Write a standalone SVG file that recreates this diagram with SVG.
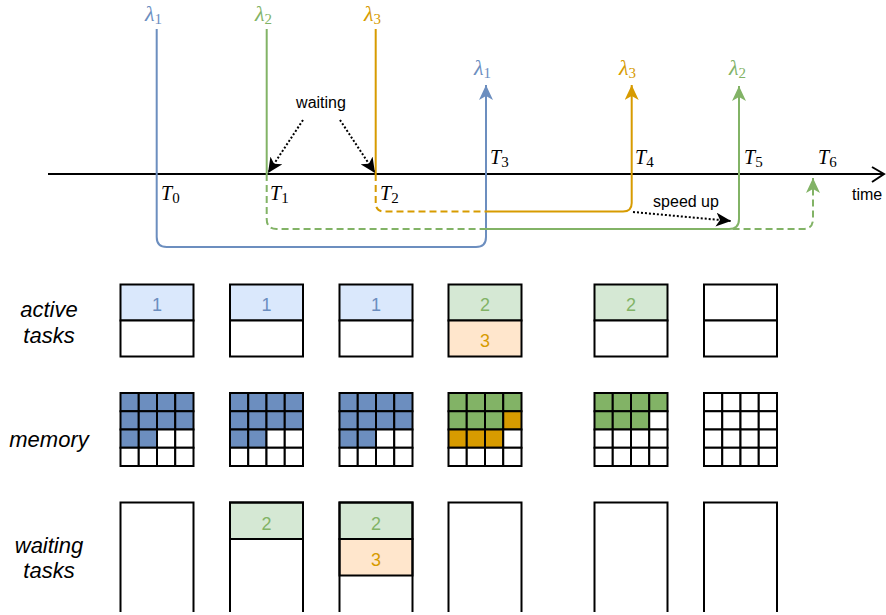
<svg xmlns="http://www.w3.org/2000/svg" width="886" height="615" viewBox="0 0 886 615">
<style>
.lbl{font-family:"Liberation Sans",Arial,sans-serif;font-size:16px;fill:#000}
.side{font-family:"Liberation Sans",Arial,sans-serif;font-size:22px;font-style:italic;fill:#000;text-anchor:middle}
.num{font-family:"Liberation Sans",Arial,sans-serif;font-size:18px;text-anchor:middle}
.math{font-family:"Liberation Serif","Times New Roman",serif;font-size:20px;font-style:italic}
.lam{font-size:22px}
.sub{font-style:normal;font-size:15px}
.box{stroke:#000;stroke-width:2}
.cell{stroke:#000;stroke-width:2}
.ln{fill:none;stroke-width:2}
.dash{stroke-dasharray:7 4}
.dot{fill:none;stroke:#000;stroke-width:2;stroke-dasharray:2 2}
</style>
<defs>
<marker id="aB" markerUnits="userSpaceOnUse" viewBox="0 0 15 14" markerWidth="15" markerHeight="14" refX="15" refY="7" orient="auto"><path d="M0,0 L15,7 L0,14 L4,7 Z" fill="#6c8ebf"/></marker>
<marker id="aG" markerUnits="userSpaceOnUse" viewBox="0 0 15 14" markerWidth="15" markerHeight="14" refX="15" refY="7" orient="auto"><path d="M0,0 L15,7 L0,14 L4,7 Z" fill="#82b366"/></marker>
<marker id="aO" markerUnits="userSpaceOnUse" viewBox="0 0 15 14" markerWidth="15" markerHeight="14" refX="15" refY="7" orient="auto"><path d="M0,0 L15,7 L0,14 L4,7 Z" fill="#d79b00"/></marker>
<marker id="aK" markerUnits="userSpaceOnUse" viewBox="0 0 15 14" markerWidth="15" markerHeight="14" refX="15" refY="7" orient="auto"><path d="M0,0 L15,7 L0,14 L4,7 Z" fill="#000"/></marker>
</defs>
<rect width="886" height="615" fill="#fff"/>

<g id="axis">
<line x1="48" y1="174" x2="884" y2="174" stroke="#000" stroke-width="2"/>
<polyline points="872,167 884,174 872,182" fill="none" stroke="#000" stroke-width="2"/>
<text class="lbl" x="852" y="200">time</text>
</g>

<g id="connectors">
<path class="ln" stroke="#6c8ebf" d="M156.7,29 V237 Q156.7,247 166.7,247 H476 Q486,247 486,237 V85" marker-end="url(#aB)"/>
<path class="ln" stroke="#82b366" d="M266.7,29 V174"/>
<path class="ln dash" stroke="#82b366" d="M266.7,174 V219 Q266.7,229 276.7,229 H803 Q813,229 813,219 V178" marker-end="url(#aG)"/>
<path class="ln" stroke="#82b366" d="M486,229 H729 Q739,229 739,219 V86" marker-end="url(#aG)"/>
<path class="ln" stroke="#d79b00" d="M375.7,29 V174"/>
<path class="ln dash" stroke="#d79b00" d="M375.7,174 V203 Q375.7,211.5 384.2,211.5 H486"/>
<path class="ln" stroke="#d79b00" d="M486,211.5 H623 Q631.7,211.5 631.7,203 V85" marker-end="url(#aO)"/>
<path class="dot" d="M303,120 L268,173" marker-end="url(#aK)"/>
<path class="dot" d="M340,120 L375,173" marker-end="url(#aK)"/>
<path class="dot" d="M633,212 L731,221" marker-end="url(#aK)"/>
</g>

<g id="annotations">
<text class="lbl" x="321" y="108" text-anchor="middle">waiting</text>
<text class="lbl" x="686" y="207" text-anchor="middle">speed up</text>
</g>

<g id="lambdas">
<text class="math lam" x="145" y="21" fill="#6c8ebf">λ<tspan class="sub" dy="3">1</tspan></text>
<text class="math lam" x="255" y="21" fill="#82b366">λ<tspan class="sub" dy="3">2</tspan></text>
<text class="math lam" x="364" y="21" fill="#d79b00">λ<tspan class="sub" dy="3">3</tspan></text>
<text class="math lam" x="474" y="75" fill="#6c8ebf">λ<tspan class="sub" dy="3">1</tspan></text>
<text class="math lam" x="619" y="75" fill="#d79b00">λ<tspan class="sub" dy="3">3</tspan></text>
<text class="math lam" x="729" y="75" fill="#82b366">λ<tspan class="sub" dy="3">2</tspan></text>
</g>

<g id="times">
<text class="math" x="161" y="200" fill="#000">T<tspan class="sub" dy="3">0</tspan></text>
<text class="math" x="270" y="200" fill="#000">T<tspan class="sub" dy="3">1</tspan></text>
<text class="math" x="380" y="200" fill="#000">T<tspan class="sub" dy="3">2</tspan></text>
<text class="math" x="490" y="164" fill="#000">T<tspan class="sub" dy="3">3</tspan></text>
<text class="math" x="635" y="164" fill="#000">T<tspan class="sub" dy="3">4</tspan></text>
<text class="math" x="744" y="164" fill="#000">T<tspan class="sub" dy="3">5</tspan></text>
<text class="math" x="818" y="164" fill="#000">T<tspan class="sub" dy="3">6</tspan></text>
</g>

<g id="row-labels">
<text class="side" x="49" y="317">active</text>
<text class="side" x="49" y="343">tasks</text>
<text class="side" x="49" y="447">memory</text>
<text class="side" x="49" y="553">waiting</text>
<text class="side" x="49" y="578">tasks</text>
</g>

<g id="active-1">
<rect class="box" x="120.5" y="284.5" width="73" height="36" fill="#dae8fc"/>
<rect class="box" x="120.5" y="320.5" width="73" height="36" fill="#fff"/>
<text class="num" x="157" y="310.5" fill="#6c8ebf">1</text>
</g>
<g id="active-2">
<rect class="box" x="230" y="284.5" width="73" height="36" fill="#dae8fc"/>
<rect class="box" x="230" y="320.5" width="73" height="36" fill="#fff"/>
<text class="num" x="266.5" y="310.5" fill="#6c8ebf">1</text>
</g>
<g id="active-3">
<rect class="box" x="339.5" y="284.5" width="73" height="36" fill="#dae8fc"/>
<rect class="box" x="339.5" y="320.5" width="73" height="36" fill="#fff"/>
<text class="num" x="376" y="310.5" fill="#6c8ebf">1</text>
</g>
<g id="active-4">
<rect class="box" x="448.5" y="284.5" width="73" height="36" fill="#d5e8d4"/>
<rect class="box" x="448.5" y="320.5" width="73" height="36" fill="#ffe6cc"/>
<text class="num" x="485" y="310.5" fill="#82b366">2</text>
<text class="num" x="485" y="347" fill="#d79b00">3</text>
</g>
<g id="active-5">
<rect class="box" x="594.5" y="284.5" width="73" height="36" fill="#d5e8d4"/>
<rect class="box" x="594.5" y="320.5" width="73" height="36" fill="#fff"/>
<text class="num" x="631" y="310.5" fill="#82b366">2</text>
</g>
<g id="active-6">
<rect class="box" x="704" y="284.5" width="73" height="36" fill="#fff"/>
<rect class="box" x="704" y="320.5" width="73" height="36" fill="#fff"/>
</g>

<g id="memory-1" transform="translate(120.5,393)">
<g fill="#6c8ebf" class="cell">
<rect x="0" y="0" width="18.25" height="18.25"/><rect x="18.25" y="0" width="18.25" height="18.25"/><rect x="36.5" y="0" width="18.25" height="18.25"/><rect x="54.75" y="0" width="18.25" height="18.25"/>
<rect x="0" y="18.25" width="18.25" height="18.25"/><rect x="18.25" y="18.25" width="18.25" height="18.25"/><rect x="36.5" y="18.25" width="18.25" height="18.25"/><rect x="54.75" y="18.25" width="18.25" height="18.25"/>
<rect x="0" y="36.5" width="18.25" height="18.25"/><rect x="18.25" y="36.5" width="18.25" height="18.25"/>
</g>
<g fill="#fff" class="cell">
<rect x="36.5" y="36.5" width="18.25" height="18.25"/><rect x="54.75" y="36.5" width="18.25" height="18.25"/>
<rect x="0" y="54.75" width="18.25" height="18.25"/><rect x="18.25" y="54.75" width="18.25" height="18.25"/><rect x="36.5" y="54.75" width="18.25" height="18.25"/><rect x="54.75" y="54.75" width="18.25" height="18.25"/>
</g>
</g>
<g id="memory-2" transform="translate(230,393)">
<g fill="#6c8ebf" class="cell">
<rect x="0" y="0" width="18.25" height="18.25"/><rect x="18.25" y="0" width="18.25" height="18.25"/><rect x="36.5" y="0" width="18.25" height="18.25"/><rect x="54.75" y="0" width="18.25" height="18.25"/>
<rect x="0" y="18.25" width="18.25" height="18.25"/><rect x="18.25" y="18.25" width="18.25" height="18.25"/><rect x="36.5" y="18.25" width="18.25" height="18.25"/><rect x="54.75" y="18.25" width="18.25" height="18.25"/>
<rect x="0" y="36.5" width="18.25" height="18.25"/><rect x="18.25" y="36.5" width="18.25" height="18.25"/>
</g>
<g fill="#fff" class="cell">
<rect x="36.5" y="36.5" width="18.25" height="18.25"/><rect x="54.75" y="36.5" width="18.25" height="18.25"/>
<rect x="0" y="54.75" width="18.25" height="18.25"/><rect x="18.25" y="54.75" width="18.25" height="18.25"/><rect x="36.5" y="54.75" width="18.25" height="18.25"/><rect x="54.75" y="54.75" width="18.25" height="18.25"/>
</g>
</g>
<g id="memory-3" transform="translate(339.5,393)">
<g fill="#6c8ebf" class="cell">
<rect x="0" y="0" width="18.25" height="18.25"/><rect x="18.25" y="0" width="18.25" height="18.25"/><rect x="36.5" y="0" width="18.25" height="18.25"/><rect x="54.75" y="0" width="18.25" height="18.25"/>
<rect x="0" y="18.25" width="18.25" height="18.25"/><rect x="18.25" y="18.25" width="18.25" height="18.25"/><rect x="36.5" y="18.25" width="18.25" height="18.25"/><rect x="54.75" y="18.25" width="18.25" height="18.25"/>
<rect x="0" y="36.5" width="18.25" height="18.25"/><rect x="18.25" y="36.5" width="18.25" height="18.25"/>
</g>
<g fill="#fff" class="cell">
<rect x="36.5" y="36.5" width="18.25" height="18.25"/><rect x="54.75" y="36.5" width="18.25" height="18.25"/>
<rect x="0" y="54.75" width="18.25" height="18.25"/><rect x="18.25" y="54.75" width="18.25" height="18.25"/><rect x="36.5" y="54.75" width="18.25" height="18.25"/><rect x="54.75" y="54.75" width="18.25" height="18.25"/>
</g>
</g>
<g id="memory-4" transform="translate(448.5,393)">
<g fill="#82b366" class="cell">
<rect x="0" y="0" width="18.25" height="18.25"/><rect x="18.25" y="0" width="18.25" height="18.25"/><rect x="36.5" y="0" width="18.25" height="18.25"/><rect x="54.75" y="0" width="18.25" height="18.25"/>
<rect x="0" y="18.25" width="18.25" height="18.25"/><rect x="18.25" y="18.25" width="18.25" height="18.25"/><rect x="36.5" y="18.25" width="18.25" height="18.25"/>
</g>
<g fill="#d79b00" class="cell">
<rect x="54.75" y="18.25" width="18.25" height="18.25"/>
<rect x="0" y="36.5" width="18.25" height="18.25"/><rect x="18.25" y="36.5" width="18.25" height="18.25"/><rect x="36.5" y="36.5" width="18.25" height="18.25"/>
</g>
<g fill="#fff" class="cell">
<rect x="54.75" y="36.5" width="18.25" height="18.25"/>
<rect x="0" y="54.75" width="18.25" height="18.25"/><rect x="18.25" y="54.75" width="18.25" height="18.25"/><rect x="36.5" y="54.75" width="18.25" height="18.25"/><rect x="54.75" y="54.75" width="18.25" height="18.25"/>
</g>
</g>
<g id="memory-5" transform="translate(594.5,393)">
<g fill="#82b366" class="cell">
<rect x="0" y="0" width="18.25" height="18.25"/><rect x="18.25" y="0" width="18.25" height="18.25"/><rect x="36.5" y="0" width="18.25" height="18.25"/><rect x="54.75" y="0" width="18.25" height="18.25"/>
<rect x="0" y="18.25" width="18.25" height="18.25"/><rect x="18.25" y="18.25" width="18.25" height="18.25"/><rect x="36.5" y="18.25" width="18.25" height="18.25"/>
</g>
<g fill="#fff" class="cell">
<rect x="54.75" y="18.25" width="18.25" height="18.25"/>
<rect x="0" y="36.5" width="18.25" height="18.25"/><rect x="18.25" y="36.5" width="18.25" height="18.25"/><rect x="36.5" y="36.5" width="18.25" height="18.25"/><rect x="54.75" y="36.5" width="18.25" height="18.25"/>
<rect x="0" y="54.75" width="18.25" height="18.25"/><rect x="18.25" y="54.75" width="18.25" height="18.25"/><rect x="36.5" y="54.75" width="18.25" height="18.25"/><rect x="54.75" y="54.75" width="18.25" height="18.25"/>
</g>
</g>
<g id="memory-6" transform="translate(704,393)">
<g fill="#fff" class="cell">
<rect x="0" y="0" width="18.25" height="18.25"/><rect x="18.25" y="0" width="18.25" height="18.25"/><rect x="36.5" y="0" width="18.25" height="18.25"/><rect x="54.75" y="0" width="18.25" height="18.25"/>
<rect x="0" y="18.25" width="18.25" height="18.25"/><rect x="18.25" y="18.25" width="18.25" height="18.25"/><rect x="36.5" y="18.25" width="18.25" height="18.25"/><rect x="54.75" y="18.25" width="18.25" height="18.25"/>
<rect x="0" y="36.5" width="18.25" height="18.25"/><rect x="18.25" y="36.5" width="18.25" height="18.25"/><rect x="36.5" y="36.5" width="18.25" height="18.25"/><rect x="54.75" y="36.5" width="18.25" height="18.25"/>
<rect x="0" y="54.75" width="18.25" height="18.25"/><rect x="18.25" y="54.75" width="18.25" height="18.25"/><rect x="36.5" y="54.75" width="18.25" height="18.25"/><rect x="54.75" y="54.75" width="18.25" height="18.25"/>
</g>
</g>

<g id="waiting-1">
<path class="box" fill="none" d="M120.5,612 V502.5 H193.5 V612"/>
</g>
<g id="waiting-2">
<rect class="box" x="230" y="502.5" width="73" height="36.5" fill="#d5e8d4"/>
<path class="box" fill="none" d="M230,612 V502.5 H303 V612"/>
<text class="num" x="266.5" y="530" fill="#82b366">2</text>
</g>
<g id="waiting-3">
<rect class="box" x="339.5" y="502.5" width="73" height="36.5" fill="#d5e8d4"/>
<rect class="box" x="339.5" y="539" width="73" height="36.5" fill="#ffe6cc"/>
<path class="box" fill="none" d="M339.5,612 V502.5 H412.5 V612"/>
<text class="num" x="376" y="530" fill="#82b366">2</text>
<text class="num" x="376" y="566" fill="#d79b00">3</text>
</g>
<g id="waiting-4">
<path class="box" fill="none" d="M448.5,612 V502.5 H521.5 V612"/>
</g>
<g id="waiting-5">
<path class="box" fill="none" d="M594.5,612 V502.5 H667.5 V612"/>
</g>
<g id="waiting-6">
<path class="box" fill="none" d="M704,612 V502.5 H777 V612"/>
</g>
</svg>
